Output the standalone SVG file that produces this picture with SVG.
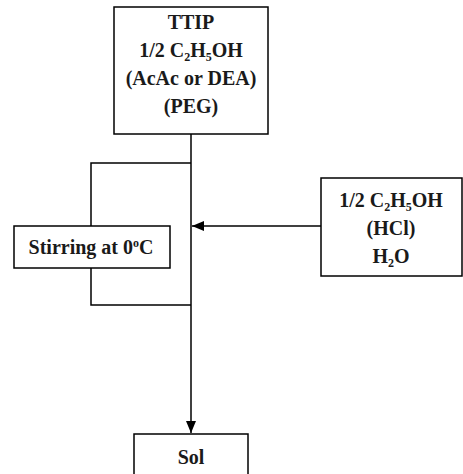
<svg xmlns="http://www.w3.org/2000/svg" width="463" height="474" viewBox="0 0 463 474">
<style>
.box{fill:#fff;stroke:#000;stroke-width:1.5}
.ln{fill:none;stroke:#000;stroke-width:1.5}
text{font-family:"Liberation Serif","Times New Roman",serif;font-weight:bold;font-size:20px;fill:#1a1a1a;text-anchor:middle}
.sub{font-size:12px}
</style>
<defs>
<marker id="ah" markerWidth="12" markerHeight="10" refX="12" refY="5" orient="auto" markerUnits="userSpaceOnUse">
<path d="M0,0 L12,5 L0,10 Z" fill="#000"/>
</marker>
</defs>
<g id="connectors">
<line class="ln" x1="191" y1="134" x2="191" y2="433" marker-end="url(#ah)"/>
<polyline class="ln" points="191,163 91,163 91,226"/>
<polyline class="ln" points="91,268 91,305 191,305"/>
<line class="ln" x1="321" y1="226" x2="192" y2="226" marker-end="url(#ah)"/>
</g>
<g id="node-ttip">
<rect class="box" x="114" y="7" width="154" height="127"/>
<text x="191" y="29">TTIP</text>
<text x="191" y="57">1/2 C<tspan class="sub" dy="4">2</tspan><tspan dy="-4">H</tspan><tspan class="sub" dy="4">5</tspan><tspan dy="-4">OH</tspan></text>
<text x="191" y="85">(AcAc or DEA)</text>
<text x="191" y="113">(PEG)</text>
</g>
<g id="node-stirring">
<rect class="box" x="14" y="226" width="156" height="42"/>
<text x="91" y="254">Stirring at 0<tspan font-size="12" dy="-7">o</tspan><tspan dy="7">C</tspan></text>
</g>
<g id="node-reagents">
<rect class="box" x="321" y="178" width="141" height="98"/>
<text x="391" y="207">1/2 C<tspan class="sub" dy="4">2</tspan><tspan dy="-4">H</tspan><tspan class="sub" dy="4">5</tspan><tspan dy="-4">OH</tspan></text>
<text x="391" y="235">(HCl)</text>
<text x="391" y="263">H<tspan class="sub" dy="4">2</tspan><tspan dy="-4">O</tspan></text>
</g>
<g id="node-sol">
<rect class="box" x="134" y="434" width="114" height="50"/>
<text x="191" y="464">Sol</text>
</g>
</svg>
